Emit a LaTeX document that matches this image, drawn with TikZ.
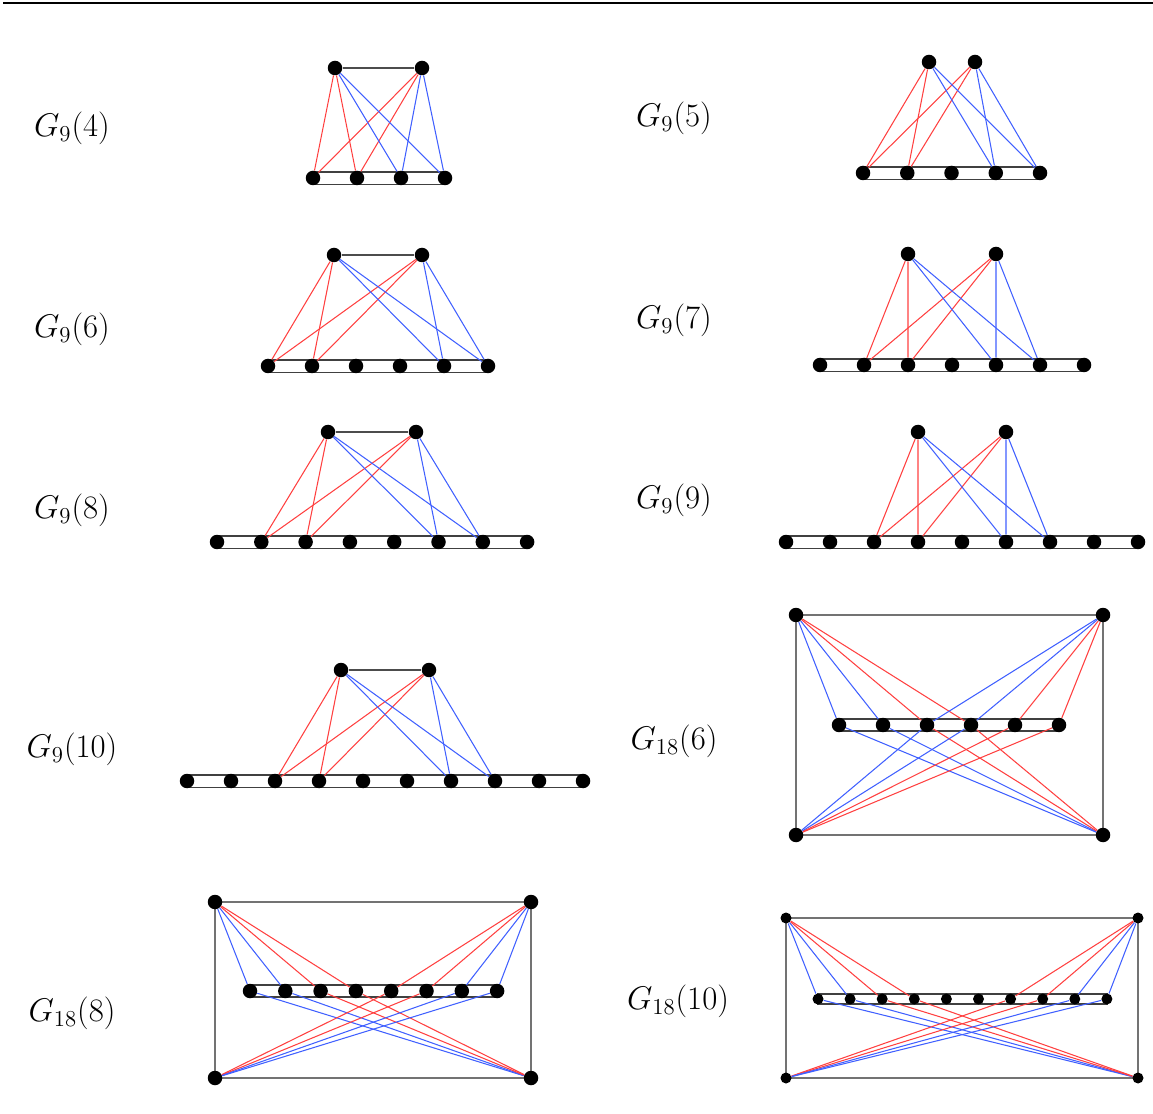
\documentclass[tikz,border=0pt]{standalone}
\usepackage{graphicx}
\usepackage{tikz}
\usetikzlibrary{backgrounds}
\definecolor{edgered}{RGB}{255,64,64}
\definecolor{edgeblue}{RGB}{64,96,255}
\newcommand{\glabel}[1]{\scalebox{1.08}{$#1$}}

\begin{document}
\begin{tikzpicture}[x=0.02cm, y=-0.02cm, font=\LARGE,
		vtx/.style={circle, fill=black, inner sep=0pt, minimum size=0.29cm},
		vtxs/.style={circle, fill=black, inner sep=0pt, minimum size=0.22cm},
		redline/.style={draw=edgered, line width=0.6pt},
		blueline/.style={draw=edgeblue, line width=0.6pt},
		strip/.style={draw=black!75, line width=0.9pt},
		frame/.style={draw=black!55, line width=1pt},
		topedge/.style={draw=black!70, line width=0.7pt}]
			\useasboundingbox (0,0) rectangle (1153,1114);
			% header rule
			\coordinate (rl) at (3,3);
			\coordinate (rr) at (1153,3);
			\draw[line width=0.8pt] (rl) -- (rr);
			% labels
			\node (l94) at (72,128) {\glabel{G_9(4)}};
			\node (l95) at (674,118) {\glabel{G_9(5)}};
			\node (l96) at (72,329) {\glabel{G_9(6)}};
			\node (l97) at (674,320) {\glabel{G_9(7)}};
			\node (l98) at (72,510) {\glabel{G_9(8)}};
			\node (l99) at (674,500) {\glabel{G_9(9)}};
			\node (l910) at (72,749) {\glabel{G_9(10)}};
			\node (l186) at (674,741) {\glabel{G_{18}(6)}};
			\node (l188) at (72,1013) {\glabel{G_{18}(8)}};
			\node (l1810) at (678,1001) {\glabel{G_{18}(10)}};
			% G_9(4)
			\node[vtx] (a4u) at (335,68) {};
			\node[vtx] (a4v) at (422,68) {};
			\foreach \i in {1,...,4} \node[vtx] (a4-\i) at ({313+44*(\i-1)},178) {};
			\draw[topedge] (a4u) -- (a4v);
			\foreach \j in {1,2} \draw[redline] (a4u) -- (a4-\j) (a4v) -- (a4-\j);
			\foreach \j in {3,4} \draw[blueline] (a4u) -- (a4-\j) (a4v) -- (a4-\j);
			% G_9(5)
			\node[vtx] (a5u) at (929,62) {};
			\node[vtx] (a5v) at (975,62) {};
			\foreach \i in {1,...,5} \node[vtx] (a5-\i) at ({863+44.25*(\i-1)},173) {};
			\foreach \j in {1,2} \draw[redline] (a5u) -- (a5-\j) (a5v) -- (a5-\j);
			\foreach \j in {4,5} \draw[blueline] (a5u) -- (a5-\j) (a5v) -- (a5-\j);
			% G_9(6)
			\node[vtx] (a6u) at (334,255) {};
			\node[vtx] (a6v) at (422,255) {};
			\foreach \i in {1,...,6} \node[vtx] (a6-\i) at ({268+44*(\i-1)},366) {};
			\draw[topedge] (a6u) -- (a6v);
			\foreach \j in {1,2} \draw[redline] (a6u) -- (a6-\j) (a6v) -- (a6-\j);
			\foreach \j in {5,6} \draw[blueline] (a6u) -- (a6-\j) (a6v) -- (a6-\j);
			% G_9(7)
			\node[vtx] (a7u) at (908,254) {};
			\node[vtx] (a7v) at (996,254) {};
			\foreach \i in {1,...,7} \node[vtx] (a7-\i) at ({820+44*(\i-1)},365) {};
			\foreach \j in {2,3} \draw[redline] (a7u) -- (a7-\j) (a7v) -- (a7-\j);
			\foreach \j in {5,6} \draw[blueline] (a7u) -- (a7-\j) (a7v) -- (a7-\j);
			% G_9(8)
			\node[vtx] (a8u) at (328,432) {};
			\node[vtx] (a8v) at (416,432) {};
			\foreach \i in {1,...,8} \node[vtx] (a8-\i) at ({217+44.3*(\i-1)},542) {};
			\draw[topedge] (a8u) -- (a8v);
			\foreach \j in {2,3} \draw[redline] (a8u) -- (a8-\j) (a8v) -- (a8-\j);
			\foreach \j in {6,7} \draw[blueline] (a8u) -- (a8-\j) (a8v) -- (a8-\j);
			% G_9(9)
			\node[vtx] (a9u) at (918,432) {};
			\node[vtx] (a9v) at (1006,432) {};
			\foreach \i in {1,...,9} \node[vtx] (a9-\i) at ({786+44*(\i-1)},542) {};
			\foreach \j in {3,4} \draw[redline] (a9u) -- (a9-\j) (a9v) -- (a9-\j);
			\foreach \j in {6,7} \draw[blueline] (a9u) -- (a9-\j) (a9v) -- (a9-\j);
			% G_9(10)
			\node[vtx] (a10u) at (341,670) {};
			\node[vtx] (a10v) at (429,670) {};
			\foreach \i in {1,...,10} \node[vtx] (a10-\i) at ({187+44*(\i-1)},781) {};
			\draw[topedge] (a10u) -- (a10v);
			\foreach \j in {3,4} \draw[redline] (a10u) -- (a10-\j) (a10v) -- (a10-\j);
			\foreach \j in {7,8} \draw[blueline] (a10u) -- (a10-\j) (a10v) -- (a10-\j);
			% G_18(6): four corners, path in the middle
			\node[vtx] (b6tl) at (796,615) {};
			\node[vtx] (b6tr) at (1103,615) {};
			\node[vtx] (b6bl) at (796,835) {};
			\node[vtx] (b6br) at (1103,835) {};
			\foreach \i in {1,...,6} \node[vtx] (b6-\i) at ({839+44*(\i-1)},725) {};
			\foreach \j in {1,2} \draw[blueline] (b6tl) -- (b6-\j) (b6br) -- (b6-\j);
			\foreach \j in {3,4} \draw[redline] (b6tl) -- (b6-\j) (b6br) -- (b6-\j);
			\foreach \j in {3,4} \draw[blueline] (b6tr) -- (b6-\j) (b6bl) -- (b6-\j);
			\foreach \j in {5,6} \draw[redline] (b6tr) -- (b6-\j) (b6bl) -- (b6-\j);
			% G_18(8)
			\node[vtx] (b8tl) at (215,902) {};
			\node[vtx] (b8tr) at (531,902) {};
			\node[vtx] (b8bl) at (215,1078) {};
			\node[vtx] (b8br) at (531,1078) {};
			\foreach \i in {1,...,8} \node[vtx] (b8-\i) at ({250+35.3*(\i-1)},991) {};
			\foreach \j in {1,2} \draw[blueline] (b8tl) -- (b8-\j) (b8br) -- (b8-\j);
			\foreach \j in {3,4} \draw[redline] (b8tl) -- (b8-\j) (b8br) -- (b8-\j);
			\foreach \j in {5,6} \draw[redline] (b8tr) -- (b8-\j) (b8bl) -- (b8-\j);
			\foreach \j in {7,8} \draw[blueline] (b8tr) -- (b8-\j) (b8bl) -- (b8-\j);
			% G_18(10)
			\node[vtxs] (b10tl) at (786,918) {};
			\node[vtxs] (b10tr) at (1138,918) {};
			\node[vtxs] (b10bl) at (786,1078) {};
			\node[vtxs] (b10br) at (1138,1078) {};
			\foreach \i in {1,...,10} \node[vtxs] (b10-\i) at ({818+32.1*(\i-1)},999) {};
			\foreach \j in {1,2} \draw[blueline] (b10tl) -- (b10-\j) (b10br) -- (b10-\j);
			\foreach \j in {3,4} \draw[redline] (b10tl) -- (b10-\j) (b10br) -- (b10-\j);
			\foreach \j in {7,8} \draw[redline] (b10tr) -- (b10-\j) (b10bl) -- (b10-\j);
			\foreach \j in {9,10} \draw[blueline] (b10tr) -- (b10-\j) (b10bl) -- (b10-\j);
			% paths as thin strips and outer frames, behind the vertices
			\begin{scope}[on background layer]
			\draw[strip] ([yshift=0.12cm]a4-1.center) rectangle ([yshift=-0.13cm]a4-4.center);
			\draw[strip] ([yshift=0.12cm]a5-1.center) rectangle ([yshift=-0.13cm]a5-5.center);
			\draw[strip] ([yshift=0.12cm]a6-1.center) rectangle ([yshift=-0.13cm]a6-6.center);
			\draw[strip] ([yshift=0.12cm]a7-1.center) rectangle ([yshift=-0.13cm]a7-7.center);
			\draw[strip] ([yshift=0.12cm]a8-1.center) rectangle ([yshift=-0.13cm]a8-8.center);
			\draw[strip] ([yshift=0.12cm]a9-1.center) rectangle ([yshift=-0.13cm]a9-9.center);
			\draw[strip] ([yshift=0.12cm]a10-1.center) rectangle ([yshift=-0.13cm]a10-10.center);
			\draw[strip] ([yshift=0.12cm]b6-1.center) rectangle ([yshift=-0.12cm]b6-6.center);
			\draw[strip] ([yshift=0.12cm]b8-1.center) rectangle ([yshift=-0.12cm]b8-8.center);
			\draw[strip] ([yshift=0.1cm]b10-1.center) rectangle ([yshift=-0.1cm]b10-10.center);
			\draw[frame] (b6tl.center) rectangle (b6br.center);
			\draw[frame] (b8tl.center) rectangle (b8br.center);
			\draw[frame] (b10tl.center) rectangle (b10br.center);
			\end{scope}
		\end{tikzpicture}
\end{document}
